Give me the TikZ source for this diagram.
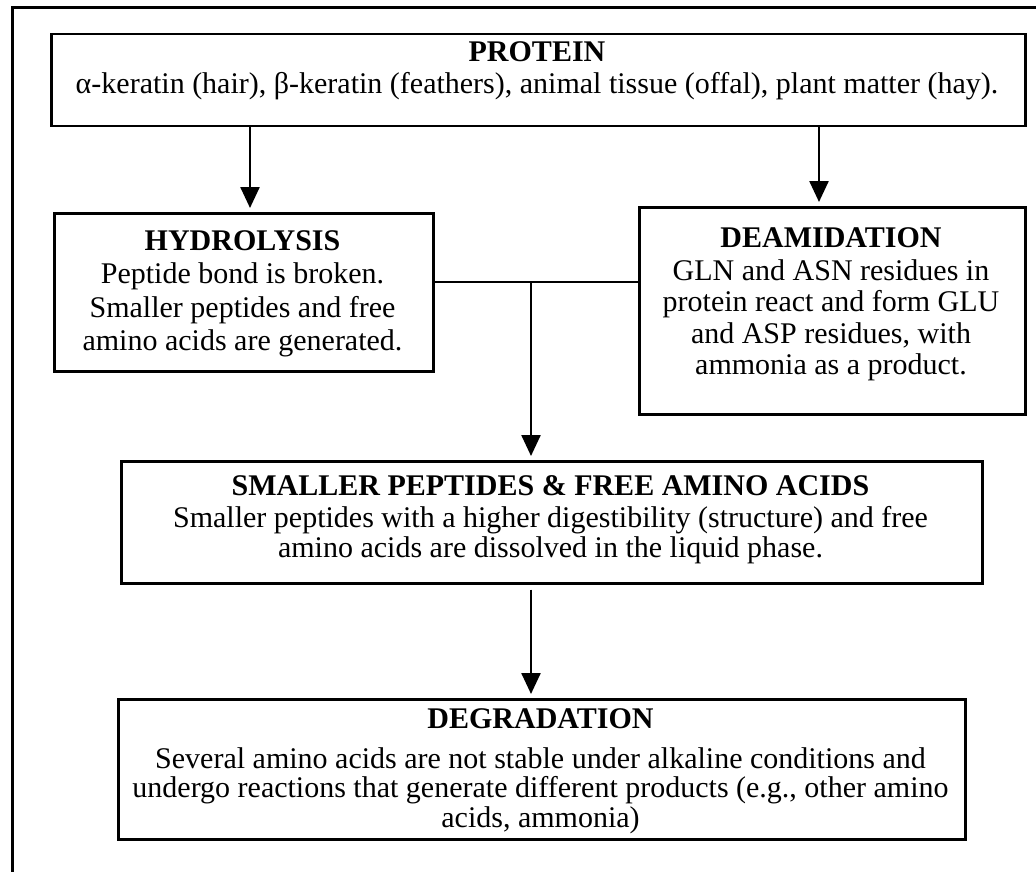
\documentclass[tikz,border=0pt]{standalone}
\usepackage{fontspec}
\setmainfont{Liberation Serif}
\usetikzlibrary{arrows.meta}
\begin{document}
\begin{tikzpicture}[x=1pt,y=1pt,
  box/.style={draw, line width=2.5pt, inner sep=0pt, anchor=north west},
  ttl/.style={font=\bfseries\fontsize{30}{32}\selectfont, inner sep=0pt, anchor=base},
  txt/.style={font=\fontsize{30}{32}\selectfont, inner sep=0pt, anchor=base},
  arr/.style={line width=2.5pt, -{Triangle[length=21pt,width=19pt]}, shorten >=4pt},
  lnk/.style={line width=2.5pt}]
\useasboundingbox (0,0) rectangle (1036,-872);
% outer frame (partial)
\draw[line width=3pt] (12,-872) -- (12,-8) -- (1036,-8);
% boxes
\node[box, minimum width=974pt, minimum height=92pt] (protein) at (50,-33) {};
\node[box, minimum width=379pt, minimum height=158pt] (hyd) at (53,-212) {};
\node[box, minimum width=386pt, minimum height=207pt] (deam) at (638,-206) {};
\node[box, minimum width=861pt, minimum height=122pt] (small) at (120,-460) {};
\node[box, minimum width=847pt, minimum height=140pt] (deg) at (117,-698) {};
% texts
\node[ttl] (p1) at (537,-62) {PROTEIN};
\node[txt] (p2) at (537,-94) {α-keratin (hair), β-keratin (feathers), animal tissue (offal), plant matter (hay).};
\node[ttl] (h1) at (242.5,-250) {HYDROLYSIS};
\node[txt] (h2) at (242.5,-283) {Peptide bond is broken.};
\node[txt] (h3) at (242.5,-317) {Smaller peptides and free};
\node[txt] (h4) at (242.5,-350) {amino acids are generated.};
\node[ttl] (d1) at (831,-247) {DEAMIDATION};
\node[txt] (d2) at (831,-280) {GLN and ASN residues in};
\node[txt] (d3) at (831,-311) {protein react and form GLU};
\node[txt] (d4) at (831,-343) {and ASP residues, with};
\node[txt] (d5) at (831,-374) {ammonia as a product.};
\node[ttl] (s1) at (550.5,-495) {SMALLER PEPTIDES \& FREE AMINO ACIDS};
\node[txt] (s2) at (550.5,-527) {Smaller peptides with a higher digestibility (structure) and free};
\node[txt] (s3) at (550.5,-557) {amino acids are dissolved in the liquid phase.};
\node[ttl] (g1) at (540.5,-728) {DEGRADATION};
\node[txt] (g2) at (540.5,-768) {Several amino acids are not stable under alkaline conditions and};
\node[txt] (g3) at (540.5,-797) {undergo reactions that generate different products (e.g., other amino};
\node[txt] (g4) at (540.5,-827) {acids, ammonia)};
% connectors
\coordinate (xl) at (250,0);
\coordinate (xr) at (819,0);
\coordinate (j) at (531,-282);
\draw[arr] (protein.south -| xl) -- (hyd.north -| xl);
\draw[arr] (protein.south -| xr) -- (deam.north -| xr);
\draw[lnk] (hyd.east |- j) -- (deam.west |- j);
\draw[arr] (j) -- (small.north -| j);
\draw[arr, shorten <=5pt] (small.south -| j) -- (deg.north -| j);
\end{tikzpicture}
\end{document}
